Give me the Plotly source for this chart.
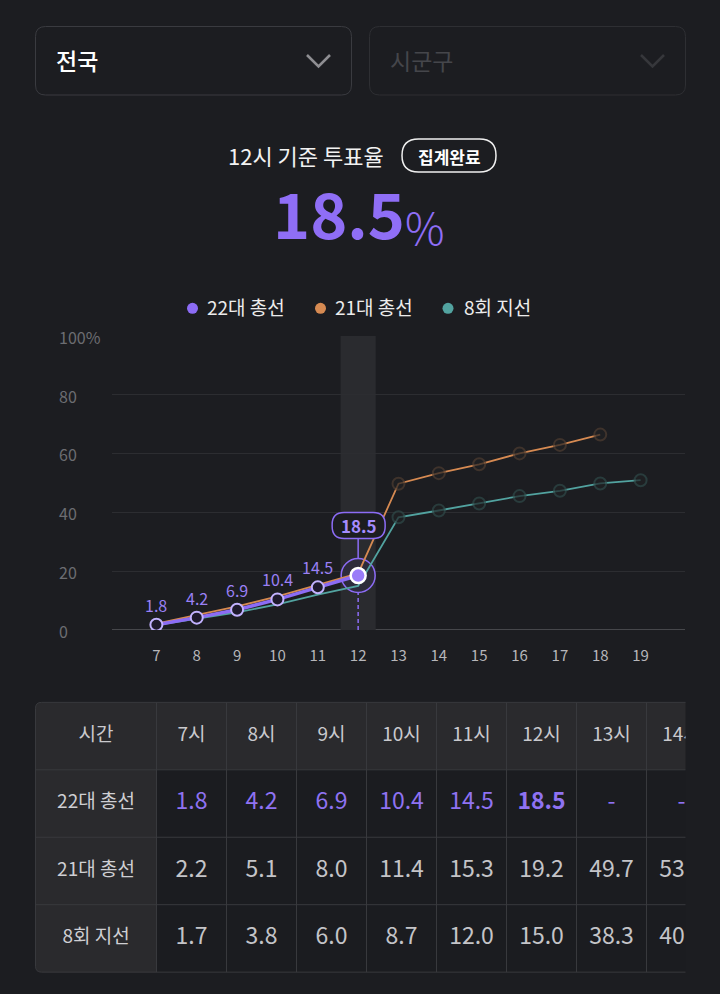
import plotly.graph_objects as go

# ---------------- data ----------------
hours = [7, 8, 9, 10, 11, 12, 13, 14, 15, 16, 17, 18, 19]
series_names = ["22대 총선", "21대 총선", "8회 지선"]
v22 = [1.8, 4.2, 6.9, 10.4, 14.5, 18.5]
v21 = [2.2, 5.1, 8.0, 11.4, 15.3, 19.2, 49.7, 53.3, 56.3, 60.0, 62.9, 66.4]
v8 = [1.7, 3.8, 6.0, 8.7, 12.0, 15.0, 38.3, 40.6, 43.0, 45.5, 47.3, 49.8, 50.9]
y_ticks = [0, 20, 40, 60, 80, 100]
current_hour = 12
current_value = 18.5
region_options = ["전국", "시군구"]
title_text = "12시 기준 투표율"
badge_text = "집계완료"

# ---------------- style ----------------
W, H = 720, 994
BG = "#1c1d21"
PURPLE = "#8c6cf5"
PURPLE_LT = "#a58cff"
ORANGE = "#d68a52"
TEAL = "#52a3a0"
FONT = "Noto Sans CJK KR"
CELL_HEAD = "#2a2a2d"
LINE = "#38393d"


def X(x):
    return x / W


def Y(y):
    return 1 - y / H


def rr_path(x0, y0, x1, y1, r):
    """rounded rectangle in pixel coords -> paper path"""
    pts = [
        f"M{X(x0 + r)},{Y(y0)}",
        f"L{X(x1 - r)},{Y(y0)}",
        f"Q{X(x1)},{Y(y0)} {X(x1)},{Y(y0 + r)}",
        f"L{X(x1)},{Y(y1 - r)}",
        f"Q{X(x1)},{Y(y1)} {X(x1 - r)},{Y(y1)}",
        f"L{X(x0 + r)},{Y(y1)}",
        f"Q{X(x0)},{Y(y1)} {X(x0)},{Y(y1 - r)}",
        f"L{X(x0)},{Y(y0 + r)}",
        f"Q{X(x0)},{Y(y0)} {X(x0 + r)},{Y(y0)}",
        "Z",
    ]
    return " ".join(pts)


fig = go.Figure()
shapes = []
annotations = []

# ---------------- chart traces ----------------
fig.add_trace(go.Scatter(
    x=[current_hour], y=[current_value], mode="markers",
    marker=dict(size=34, color="#2d2b3b", line=dict(color=PURPLE, width=1.5)),
    hoverinfo="skip", showlegend=False, xaxis="x", yaxis="y"))

sizes8 = [0 if h <= current_hour else 12 for h in hours[:len(v8)]]
fig.add_trace(go.Scatter(
    x=hours[:len(v8)], y=v8, mode="lines+markers", name=series_names[2],
    line=dict(color=TEAL, width=1.8),
    marker=dict(size=sizes8, color="#1f2123", line=dict(color="#2f4a49", width=2)),
    hoverinfo="skip", showlegend=False, xaxis="x", yaxis="y"))

sizes21 = [0 if h <= current_hour else 12 for h in hours[:len(v21)]]
fig.add_trace(go.Scatter(
    x=hours[:len(v21)], y=v21, mode="lines+markers", name=series_names[1],
    line=dict(color=ORANGE, width=1.8),
    marker=dict(size=sizes21, color="#1f2023", line=dict(color="#4e3d31", width=2)),
    hoverinfo="skip", showlegend=False, xaxis="x", yaxis="y"))

fig.add_trace(go.Scatter(
    x=hours[:len(v22)], y=v22, mode="lines", name=series_names[0],
    line=dict(color=PURPLE, width=3.5),
    hoverinfo="skip", showlegend=False, xaxis="x", yaxis="y"))
fig.add_trace(go.Scatter(
    x=hours[:len(v22) - 1], y=v22[:-1], mode="markers",
    marker=dict(size=12, color="#1e1a2c", line=dict(color="#c2b2ff", width=2)),
    hoverinfo="skip", showlegend=False, xaxis="x", yaxis="y"))

fig.add_trace(go.Scatter(
    x=[current_hour], y=[current_value], mode="markers",
    marker=dict(size=15, color="#9a7cf8", line=dict(color="white", width=2.5)),
    hoverinfo="skip", showlegend=False, xaxis="x", yaxis="y"))

# data labels 7..11
for h, v in zip(hours[:len(v22) - 1], v22[:-1]):
    annotations.append(dict(x=h, y=v, xref="x", yref="y", text=f"{v:.1f}",
                            showarrow=False, yshift=20,
                            font=dict(family=FONT, size=16, color="#9a80f5")))

# band
shapes.append(dict(type="rect", xref="x", yref="y",
                   x0=current_hour - 0.435, x1=current_hour + 0.435, y0=0, y1=100,
                   fillcolor="#2a2b2f", line=dict(width=0), layer="below"))
# dashed drop line
shapes.append(dict(type="line", xref="x", yref="y", x0=current_hour, x1=current_hour,
                   y0=0, y1=current_value, line=dict(color=PURPLE, width=1.5, dash="4px,3px"),
                   layer="below"))
# axis base line
shapes.append(dict(type="line", xref="x domain", yref="y", x0=0, x1=1, y0=0, y1=0,
                   line=dict(color="#55565a", width=1.5), layer="below"))
# connector from halo to box
shapes.append(dict(type="line", xref="x", yref="y", xsizemode="scaled",
                   ysizemode="pixel", yanchor=current_value,
                   x0=current_hour, x1=current_hour, y0=17, y1=37,
                   line=dict(color=PURPLE, width=1.5)))
# pill box
r = 12
bx0, bx1, by0, by1 = -26, 27, 37, 63
pill = (f"M{bx0 + r},{by0} L{bx1 - r},{by0} Q{bx1},{by0} {bx1},{by0 + r} "
        f"L{bx1},{by1 - r} Q{bx1},{by1} {bx1 - r},{by1} L{bx0 + r},{by1} "
        f"Q{bx0},{by1} {bx0},{by1 - r} L{bx0},{by0 + r} Q{bx0},{by0} {bx0 + r},{by0} Z")
shapes.append(dict(type="path", xref="x", yref="y", xsizemode="pixel", ysizemode="pixel",
                   xanchor=current_hour, yanchor=current_value, path=pill,
                   fillcolor=BG, line=dict(color=PURPLE, width=1.5), layer="above"))
annotations.append(dict(x=current_hour, y=current_value, xref="x", yref="y",
                        text=f"<b>{current_value:.1f}</b>", showarrow=False, yshift=50, xshift=1,
                        font=dict(family=FONT, size=17, color=PURPLE_LT)))

# y tick labels
for t in y_ticks:
    annotations.append(dict(x=X(57), y=t, xref="paper", yref="y",
                            text=f"{t}%" if t == 100 else str(t), showarrow=False,
                            xanchor="left", yanchor="middle", yshift=-1,
                            font=dict(family=FONT, size=16, color="#6c6d72")))

# ---------------- top controls ----------------
shapes.append(dict(type="path", xref="paper", yref="paper", path=rr_path(35.5, 26.5, 351.5, 95, 10),
                   fillcolor=BG, line=dict(color="#3a3b40", width=1)))
shapes.append(dict(type="path", xref="paper", yref="paper", path=rr_path(369.5, 26.5, 685.5, 95, 10),
                   fillcolor=BG, line=dict(color="#2e2f33", width=1)))
annotations.append(dict(x=X(54), y=Y(60), xref="paper", yref="paper", text=region_options[0],
                        showarrow=False, xanchor="left", yanchor="middle",
                        font=dict(family=FONT, size=23, color="#ffffff", weight=500)))
annotations.append(dict(x=X(388), y=Y(60), xref="paper", yref="paper", text=region_options[1],
                        showarrow=False, xanchor="left", yanchor="middle",
                        font=dict(family=FONT, size=23, color="#45464b")))
shapes.append(dict(type="path", xref="paper", yref="paper",
                   path=f"M{X(307)},{Y(55)} L{X(318.5)},{Y(66.5)} L{X(330)},{Y(55)}",
                   line=dict(color="#8e8e92", width=2.6)))
shapes.append(dict(type="path", xref="paper", yref="paper",
                   path=f"M{X(641)},{Y(55)} L{X(652.5)},{Y(66.5)} L{X(664)},{Y(55)}",
                   line=dict(color="#36373b", width=2.6)))

# title + badge
annotations.append(dict(x=X(306), y=Y(155), xref="paper", yref="paper", text=title_text,
                        showarrow=False, xanchor="center", yanchor="middle",
                        font=dict(family=FONT, size=22, color="#f2f2f2")))
shapes.append(dict(type="path", xref="paper", yref="paper", path=rr_path(402, 139, 496, 172, 16.5),
                   fillcolor=BG, line=dict(color="#f0f0f0", width=1.5)))
annotations.append(dict(x=X(449), y=Y(156), xref="paper", yref="paper", text=f"<b>{badge_text}</b>",
                        showarrow=False, xanchor="center", yanchor="middle",
                        font=dict(family=FONT, size=17, color="#ffffff")))

# big number
annotations.append(dict(x=X(407), y=Y(211), xref="paper", yref="paper",
                        text=f"<b>{current_value:.1f}</b>", showarrow=False,
                        xanchor="right", yanchor="middle",
                        font=dict(family=FONT, size=63, color="#8f6ef6")))
annotations.append(dict(x=X(403), y=Y(226), xref="paper", yref="paper", text="%",
                        showarrow=False, xanchor="left", yanchor="middle",
                        font=dict(family=FONT, size=44, color="#8f6ef6", weight=300)))

# legend
leg = [(192.5, 205, series_names[0], PURPLE), (320.5, 333, series_names[1], ORANGE),
       (448, 461.5, series_names[2], TEAL)]
for cx, tx, name, col in leg:
    shapes.append(dict(type="circle", xref="paper", yref="paper",
                       x0=X(cx - 5.5), x1=X(cx + 5.5), y0=Y(308.3 + 5.5), y1=Y(308.3 - 5.5),
                       fillcolor=col, line=dict(width=0)))
    annotations.append(dict(x=X(tx), y=Y(307), xref="paper", yref="paper", text=name,
                            showarrow=False, xanchor="left", yanchor="middle",
                            font=dict(family=FONT, size=19, color="#ececec")))

# ---------------- table ----------------
first_w, col_w = 121, 70
ncols = len(hours)
total_w = first_w + col_w * ncols
bounds = [0, first_w] + [first_w + col_w * (i + 1) for i in range(ncols)]
centers = [(bounds[i] + bounds[i + 1]) / 2 for i in range(ncols + 1)]

rr = 6
rry = rr / 68
shapes.append(dict(type="rect", xref="x2", yref="y2", x0=first_w, x1=total_w, y0=1, y1=4,
                   fillcolor="#1b1c20", line=dict(width=0), layer="below"))
shapes.append(dict(type="rect", xref="x2", yref="y2", x0=first_w, x1=total_w, y0=0, y1=1,
                   fillcolor=CELL_HEAD, line=dict(width=0), layer="below"))
shapes.append(dict(type="path", xref="x2", yref="y2",
                   path=(f"M{rr},0 L{first_w},0 L{first_w},4 L{rr},4 Q0,4 0,{4 - rry} "
                         f"L0,{rry} Q0,0 {rr},0 Z"),
                   fillcolor=CELL_HEAD, line=dict(width=0), layer="below"))
for yy in [1, 2, 3]:
    shapes.append(dict(type="line", xref="x2", yref="y2", x0=0, x1=total_w, y0=yy, y1=yy,
                       line=dict(color=LINE, width=1), layer="below"))
for xx in bounds[1:-1]:
    shapes.append(dict(type="line", xref="x2", yref="y2", x0=xx, x1=xx, y0=0, y1=4,
                       line=dict(color=LINE, width=1), layer="below"))
shapes.append(dict(type="path", xref="x2", yref="y2",
                   path=(f"M{total_w},0 L{rr},0 Q0,0 0,{rry} L0,{4 - rry} Q0,4 {rr},4 L{total_w},4"),
                   line=dict(color=LINE, width=1), layer="below"))

head = ["시간"] + [f"{h}시" for h in hours]
fig.add_trace(go.Scatter(x=centers, y=[0.5] * len(head), text=head, mode="text",
                         textfont=dict(family=FONT, size=19, color="#c9c9cd"),
                         cliponaxis=True, hoverinfo="skip", showlegend=False,
                         xaxis="x2", yaxis="y2"))
fig.add_trace(go.Scatter(x=[centers[0]] * 3, y=[1.5, 2.5, 3.5], text=series_names, mode="text",
                         textfont=dict(family=FONT, size=19, color="#cfcfd3"),
                         cliponaxis=True, hoverinfo="skip", showlegend=False,
                         xaxis="x2", yaxis="y2"))


def fmt_row(vals, bold_idx=None):
    out = []
    for i in range(ncols):
        if i < len(vals):
            s = f"{vals[i]:.1f}"
            if bold_idx is not None and i == bold_idx:
                s = f"<b>{s}</b>"
        else:
            s = "-"
        out.append(s)
    return out


rows = [(fmt_row(v22, len(v22) - 1), "#8f72f2", 1.5),
        (fmt_row(v21), "#c4c4c8", 2.5),
        (fmt_row(v8), "#c4c4c8", 3.5)]
for texts, col, yy in rows:
    fig.add_trace(go.Scatter(x=centers[1:], y=[yy] * ncols, text=texts, mode="text",
                             textfont=dict(family=FONT, size=23, color=col),
                             cliponaxis=True, hoverinfo="skip", showlegend=False,
                             xaxis="x2", yaxis="y2"))

# ---------------- layout ----------------
fig.update_layout(
    width=W, height=H, margin=dict(l=0, r=0, t=0, b=0),
    paper_bgcolor=BG, plot_bgcolor="rgba(0,0,0,0)",
    font=dict(family=FONT),
    showlegend=False,
    xaxis=dict(domain=[X(112), X(685)], range=[5.9, 20.1], tickvals=hours,
               ticktext=[str(h) for h in hours], showgrid=False, zeroline=False,
               showline=False, ticks="", ticklabelstandoff=15,
               tickfont=dict(family=FONT, size=15, color="#b6b6ba"), fixedrange=True),
    yaxis=dict(domain=[Y(630), Y(335.7)], range=[0, 100], tickvals=y_ticks,
               showticklabels=False, showgrid=True, gridcolor="#2c2d31", gridwidth=1,
               zeroline=False, showline=False, ticks="", fixedrange=True),
    xaxis2=dict(domain=[X(35), X(685.5)], range=[-0.5, 650], anchor="y2", visible=False,
                fixedrange=True),
    yaxis2=dict(domain=[Y(973.5), Y(701)], range=[4.02, -0.02], anchor="x2", visible=False,
                fixedrange=True),
    shapes=shapes, annotations=annotations,
)

fig.write_html("out.html", config={"displayModeBar": False})
